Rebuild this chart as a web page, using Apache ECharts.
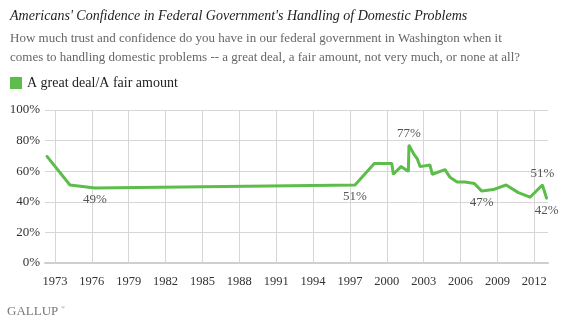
<!DOCTYPE html>
<html>
<head>
<meta charset="utf-8">
<script src="https://cdn.jsdelivr.net/npm/echarts@6/dist/echarts.min.js"></script>
<style>
html,body{margin:0;padding:0;background:#fff;}
#chart{width:569px;height:324px;}
</style>
</head>
<body>
<div id="chart"></div>
<script>
// ---- data ----
const seriesName = 'A great deal/A fair amount';
const years = [1972.32, 1974.22, 1976.25, 1997.41, 1998.98, 2000.40, 2000.53, 2001.15, 2001.75, 2001.80, 2002.21, 2002.48, 2002.70, 2003.51, 2003.70, 2004.73, 2005.14, 2005.71, 2006.36, 2007.12, 2007.72, 2008.66, 2009.70, 2010.70, 2011.65, 2012.65, 2013.01];
const values = [70, 51, 49, 51, 65, 65, 58, 63, 60, 77, 71, 68, 63, 64, 58, 61, 56, 53, 53, 52, 47, 48, 51, 46, 43, 51, 42];
const xTickYears = [1973, 1976, 1979, 1982, 1985, 1988, 1991, 1994, 1997, 2000, 2003, 2006, 2009, 2012];
const labeledPoints = {2: 'bottom', 3: 'bottom', 9: 'top', 20: 'bottom', 25: 'top', 26: 'bottom'};

const serif = '"Liberation Serif", "DejaVu Serif", serif';
const green = '#5cbd4a';
const gridTop = 110, gridBottom = 61, chartH = 324;
const gridHeight = chartH - gridTop - gridBottom;

const data = years.map((y, i) => {
  const d = {value: [y, values[i]]};
  if (labeledPoints[i]) {
    d.label = {show: true, position: labeledPoints[i], distance: 4,
      offset: i === 3 ? [7, 0] : (i === 2 ? [3, 0] : [0, 0])};
  }
  return d;
});

const chart = echarts.init(document.getElementById('chart'), null, {renderer: 'canvas'});
chart.setOption({
  animation: false,
  backgroundColor: '#fff',
  title: {
    text: "Americans' Confidence in Federal Government's Handling of Domestic Problems",
    subtext: 'How much trust and confidence do you have in our federal government in Washington when it\ncomes to handling domestic problems -- a great deal, a fair amount, not very much, or none at all?',
    left: 5, top: 4, itemGap: 6,
    textStyle: {fontFamily: serif, fontStyle: 'italic', fontWeight: 'normal', fontSize: 14, color: '#222'},
    subtextStyle: {fontFamily: serif, fontSize: 13, color: '#666', lineHeight: 19}
  },
  legend: {
    left: 10, top: 76, padding: 0, icon: 'rect', itemWidth: 12, itemHeight: 12,
    textStyle: {fontFamily: serif, fontSize: 14, color: '#222'},
    data: [seriesName]
  },
  grid: {left: 45, right: 21, top: gridTop, bottom: gridBottom, containLabel: false},
  xAxis: {
    type: 'value', min: 1972.19, max: 2013.11,
    axisLine: {show: true, lineStyle: {color: '#cfcfcf', width: 2}},
    axisTick: {show: true, inside: true, length: gridHeight, customValues: xTickYears,
      lineStyle: {color: '#d6d6d6', width: 1}},
    axisLabel: {customValues: xTickYears, margin: 12, fontFamily: serif, fontSize: 12.5, color: '#333',
      formatter: v => String(Math.round(v))},
    splitLine: {show: false}
  },
  yAxis: {
    type: 'value', min: 0, max: 100, interval: 20,
    axisLine: {show: false}, axisTick: {show: false},
    axisLabel: {formatter: '{value}%', margin: 5, fontFamily: serif, fontSize: 13, color: '#333'},
    splitLine: {show: true, lineStyle: {color: '#d6d6d6', width: 1}}
  },
  series: [{
    name: seriesName, type: 'line', data: data,
    symbol: 'circle', symbolSize: 2, showSymbol: true, showAllSymbol: true,
    lineStyle: {color: green, width: 3}, itemStyle: {color: green},
    label: {show: false, formatter: p => p.value[1] + '%', fontFamily: serif, fontSize: 13, color: '#555'},
    labelLayout: {hideOverlap: false},
    z: 3
  }],
  graphic: [
    {type: 'text', left: 7, top: 305, style: {text: 'GALLUP', fontFamily: serif, fontSize: 13, fill: '#777'}},
    {type: 'text', left: 61, top: 305, style: {text: '®', fontFamily: serif, fontSize: 5, fill: '#777'}}
  ]
});
</script>
</body>
</html>
